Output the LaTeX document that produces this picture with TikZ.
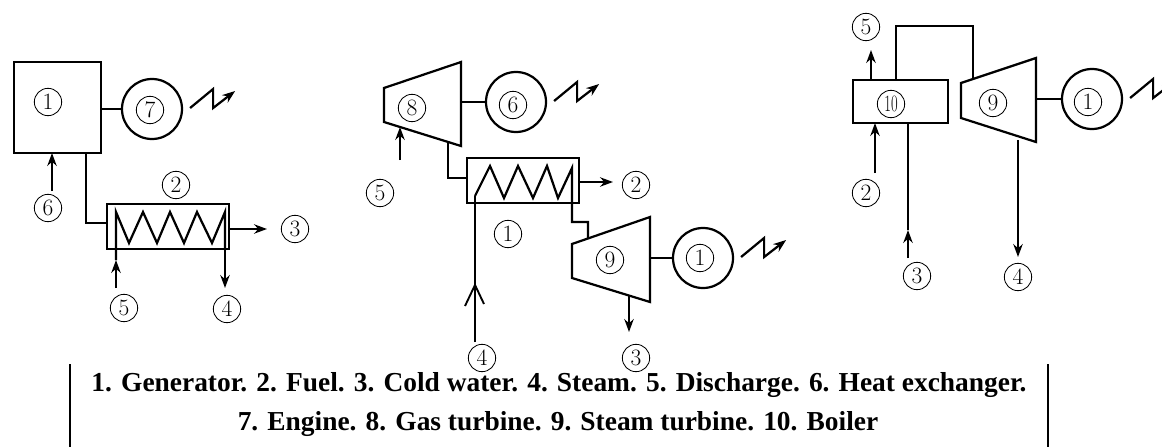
\documentclass[tikz,border=0pt]{standalone}
\usepackage{fontspec}
\newfontfamily\capfont{Liberation Serif}
\usetikzlibrary{arrows.meta}
\tikzset{
  pipe/.style={line width=1.9pt},
  flow/.style={line width=1.9pt, -{Stealth[length=11pt, width=8pt]}},
  num/.style={draw, circle, line width=0.7pt, inner sep=0pt, minimum size=0.82cm, font=\fontsize{20}{24}\selectfont},
  gen/.style={draw, circle, line width=1.9pt, inner sep=0pt, minimum size=1.8cm},
  plantbox/.style 2 args={draw, line width=1.9pt, inner sep=0pt, outer sep=0pt, minimum width=#1*0.03cm, minimum height=#2*0.03cm},
  caption/.style={font=\capfont\bfseries\fontsize{23.4}{28}\selectfont, inner sep=0pt, anchor=base},
}
\begin{document}
\begin{tikzpicture}[x=0.03cm, y=-0.03cm]
  \clip (0,0) rectangle (1162,447);

  \node[plantbox={87}{91}] (engA) at (57.5,107.5) {};
  \node[gen] (genA) at (152,109) {};
  \node[plantbox={122}{45}] (hxA) at (168,226.5) {};
  \node[num] (lab1A) at (48,102) {1};
  \node[num] (lab7A) at (150,110) {7};
  \node[num] (lab2A) at (176,185) {2};
  \node[num] (lab6A) at (48,208) {6};
  \node[num] (lab5A) at (124,308) {5};
  \node[num] (lab4A) at (227,309) {4};
  \node[num] (lab3A) at (295,229) {3};
  \coordinate (in6A) at (52,191);
  \coordinate (in5A) at (116,288);
  \coordinate (mid5A) at (116,260);
  \coordinate (out4A) at (225,288);
  \coordinate (out3A) at (267,229);
  \coordinate (cornerA) at (86,223);
  \draw[pipe] (engA.east |- genA.west) -- (genA.west);
  \draw[flow] (in6A) -- (engA.south -| in6A);
  \draw[pipe] (engA.south -| cornerA) -- (cornerA) -- (hxA.west |- cornerA);
  \draw[flow] (in5A) -- (mid5A);
  \draw[pipe] (mid5A) -- (116,212) -- (129,243) -- (143,212) -- (157,243) -- (170,212)
    -- (184,243) -- (197,212) -- (212,243) -- (225,212) -- (225,250);
  \draw[flow] (225,250) -- (out4A);
  \draw[flow] (hxA.east |- out3A) -- (out3A);

  \coordinate (gtB1) at (384,88);
  \coordinate (gtB2) at (461,62);
  \coordinate (gtB3) at (461,146);
  \coordinate (gtB4) at (384,122);
  \draw[pipe] (gtB1) -- (gtB2) -- (gtB3) -- (gtB4) -- cycle;
  \node[gen] (genB) at (516,102) {};
  \node[plantbox={112}{45}] (hxB) at (523,180.5) {};
  \coordinate (stB1) at (572,244);
  \coordinate (stB2) at (650,217);
  \coordinate (stB3) at (650,302);
  \coordinate (stB4) at (572,278);
  \draw[pipe] (stB1) -- (stB2) -- (stB3) -- (stB4) -- cycle;
  \node[gen] (genC) at (703,258) {};
  \node[num] (lab8B) at (412,108) {8};
  \node[num] (lab6B) at (513,105) {6};
  \node[num] (lab5B) at (380,193) {5};
  \node[num] (lab2B) at (636,185) {2};
  \node[num] (lab1B) at (508,234) {1};
  \node[num] (lab9B) at (610,260) {9};
  \node[num] (lab1C) at (700,258) {1};
  \node[num] (lab4B) at (482,358) {4};
  \node[num] (lab3B) at (636,358) {3};
  \coordinate (in5B) at (400,160);
  \coordinate (tip5B) at (400,127);
  \coordinate (in4B) at (475,342);
  \coordinate (tip4B) at (475,285);
  \coordinate (out2B) at (613,182);
  \coordinate (out3B) at (629,332);
  \draw[pipe] (gtB2 |- genB.west) -- (genB.west);
  \draw[flow] (in5B) -- (tip5B);
  \draw[pipe] (448,142) -- (448,178) -- (hxB.west |- 448,178);
  \draw[line width=1.6pt] (in4B) -- (475,196);
  \draw[line width=1.6pt] (465,306) -- (tip4B) -- (484,304);
  \draw[pipe] (475,196) -- (490,166) -- (504,198) -- (518,166) -- (533,198) -- (547,166)
    -- (558,198) -- (572,168) -- (572,222) -- (588,222) -- (588,239);
  \draw[flow] (hxB.east |- out2B) -- (out2B);
  \draw[pipe] (stB2 |- genC.west) -- (genC.west);
  \draw[flow] (629,296) -- (out3B);

  \node[plantbox={95}{43}] (blrD) at (900.5,101.5) {};
  \coordinate (stD1) at (961,83);
  \coordinate (stD2) at (1036,58);
  \coordinate (stD3) at (1036,142);
  \coordinate (stD4) at (961,118);
  \draw[pipe] (stD1) -- (stD2) -- (stD3) -- (stD4) -- cycle;
  \node[gen] (genD) at (1092,99) {};
  \node[num] (lab10D) at (891,104) {\scalebox{0.62}[1]{10}};
  \node[num] (lab9D) at (993,103) {9};
  \node[num] (lab1D) at (1088,102) {1};
  \node[num] (lab5D) at (866,27) {5};
  \node[num] (lab2D) at (866,193) {2};
  \node[num] (lab3D) at (917,276) {3};
  \node[num] (lab4D) at (1018,277) {4};
  \coordinate (out5D) at (871,50);
  \coordinate (in2D) at (875,173);
  \coordinate (in3D) at (908,258);
  \coordinate (mid3D) at (908,230);
  \coordinate (out4D) at (1018,257);
  \draw[flow] (out5D |- blrD.north) -- (out5D);
  \draw[pipe] (896,80) -- (896,26) -- (973,26) -- (973,80);
  \draw[pipe] (stD2 |- genD.west) -- (genD.west);
  \draw[flow] (in2D) -- (in2D |- blrD.south);
  \draw[flow] (in3D) -- (mid3D);
  \draw[line width=1.6pt] (mid3D) -- (mid3D |- blrD.south);
  \draw[flow] (1018,140) -- (out4D);

  \foreach \g in {genA,genB,genC,genD}
    \draw[flow] (\g.east) ++(7,-1) -- ++(23,-19) -- ++(0,19) -- ++(22,-17);

  \node[caption] (capA) at (559,391) {1. Generator. 2. Fuel. 3. Cold water. 4. Steam. 5. Discharge. 6. Heat exchanger.};
  \node[caption] (capB) at (558,430) {7. Engine. 8. Gas turbine. 9. Steam turbine. 10. Boiler};
  \draw[line width=1.4pt] (70,364) -- (70,447);
  \draw[line width=1.4pt] (1048,364) -- (1048,447);
\end{tikzpicture}
\end{document}
